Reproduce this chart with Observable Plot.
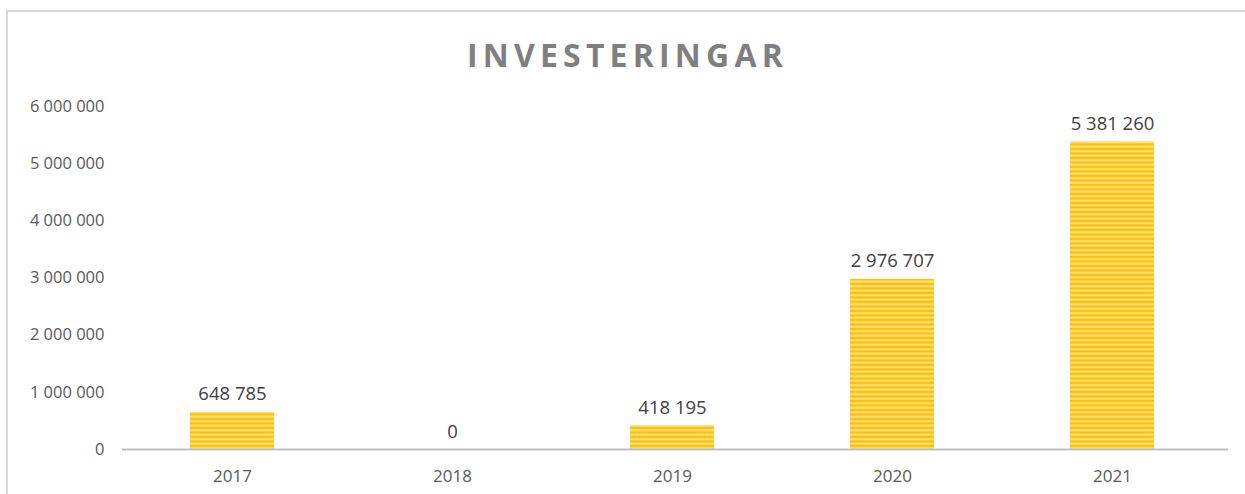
<!DOCTYPE html>
<html>
<head>
<meta charset="utf-8">
<script src="https://cdn.jsdelivr.net/npm/d3@7"></script>
<script src="https://cdn.jsdelivr.net/npm/@observablehq/plot@0.6"></script>
<style>
  html, body { margin: 0; padding: 0; background: #fff; overflow: hidden; }
  #wrap { position: relative; width: 1245px; height: 494px; }
  #frame { position: absolute; left: 6px; top: 10px; width: 1300px; height: 600px;
           border-left: 2px solid #d9d9d9; border-top: 2px solid #d9d9d9; }
  #title { position: absolute; left: 0; top: 0; width: 1255px; height: 85px; text-align: center;
           font-family: "Open Sans", sans-serif; font-weight: bold; font-size: 32px;
           letter-spacing: 5.2px; color: #7f7f7f; line-height: 110px; }
  #chart { position: absolute; left: 0; top: 85px; }
</style>
</head>
<body>
<div id="wrap">
  <div id="frame"></div>
  <div id="title">INVESTERINGAR</div>
  <div id="chart"></div>
</div>
<script>
const years = ["2017", "2018", "2019", "2020", "2021"];
const values = [648785, 0, 418195, 2976707, 5381260];
const yTicks = [0, 1000000, 2000000, 3000000, 4000000, 5000000, 6000000];

const data = years.map((y, i) => ({year: y, value: values[i]}));
const fmt = d3.formatLocale({decimal: ",", thousands: " ", grouping: [3], currency: ["", ""]}).format(",d");

const plot = Plot.plot({
  width: 1245,
  height: 409,
  marginLeft: 122,
  marginRight: 23,
  marginTop: 21,
  marginBottom: 45,
  style: {fontFamily: "'Open Sans', sans-serif", color: "#595959", background: "transparent"},
  x: {domain: years, paddingInner: 0.62, paddingOuter: 0.31, label: null},
  y: {domain: [0, 6000000], label: null},
  marks: [
    Plot.axisX({tickSize: 0, tickPadding: 20, fontSize: 17, fill: "#595959", label: null}),
    Plot.axisY(yTicks, {tickSize: 0, tickPadding: 18, tickFormat: fmt, fontSize: 16.5, fill: "#595959", label: null}),
    Plot.barY(data, {x: "year", y: "value", fill: "url(#stripes)"}),
    Plot.ruleY([0], {stroke: "#bfbfbf", strokeWidth: 2, insetRight: -6}),
    Plot.text(data, {x: "year", y: "value", text: d => fmt(d.value), dy: -12, lineAnchor: "bottom",
                     fill: "#404040", fontSize: 18.5})
  ]
});

const svg = d3.select(plot);
const defs = svg.insert("defs", ":first-child");
const pat = defs.append("pattern").attr("id", "stripes").attr("patternUnits", "userSpaceOnUse")
  .attr("width", 8).attr("height", 4.5);
pat.append("rect").attr("width", 8).attr("height", 4.5).attr("fill", "#ffc000");
pat.append("rect").attr("y", 2.2).attr("width", 8).attr("height", 2).attr("fill", "#ffe28e");

document.getElementById("chart").appendChild(plot);
</script>
</body>
</html>
